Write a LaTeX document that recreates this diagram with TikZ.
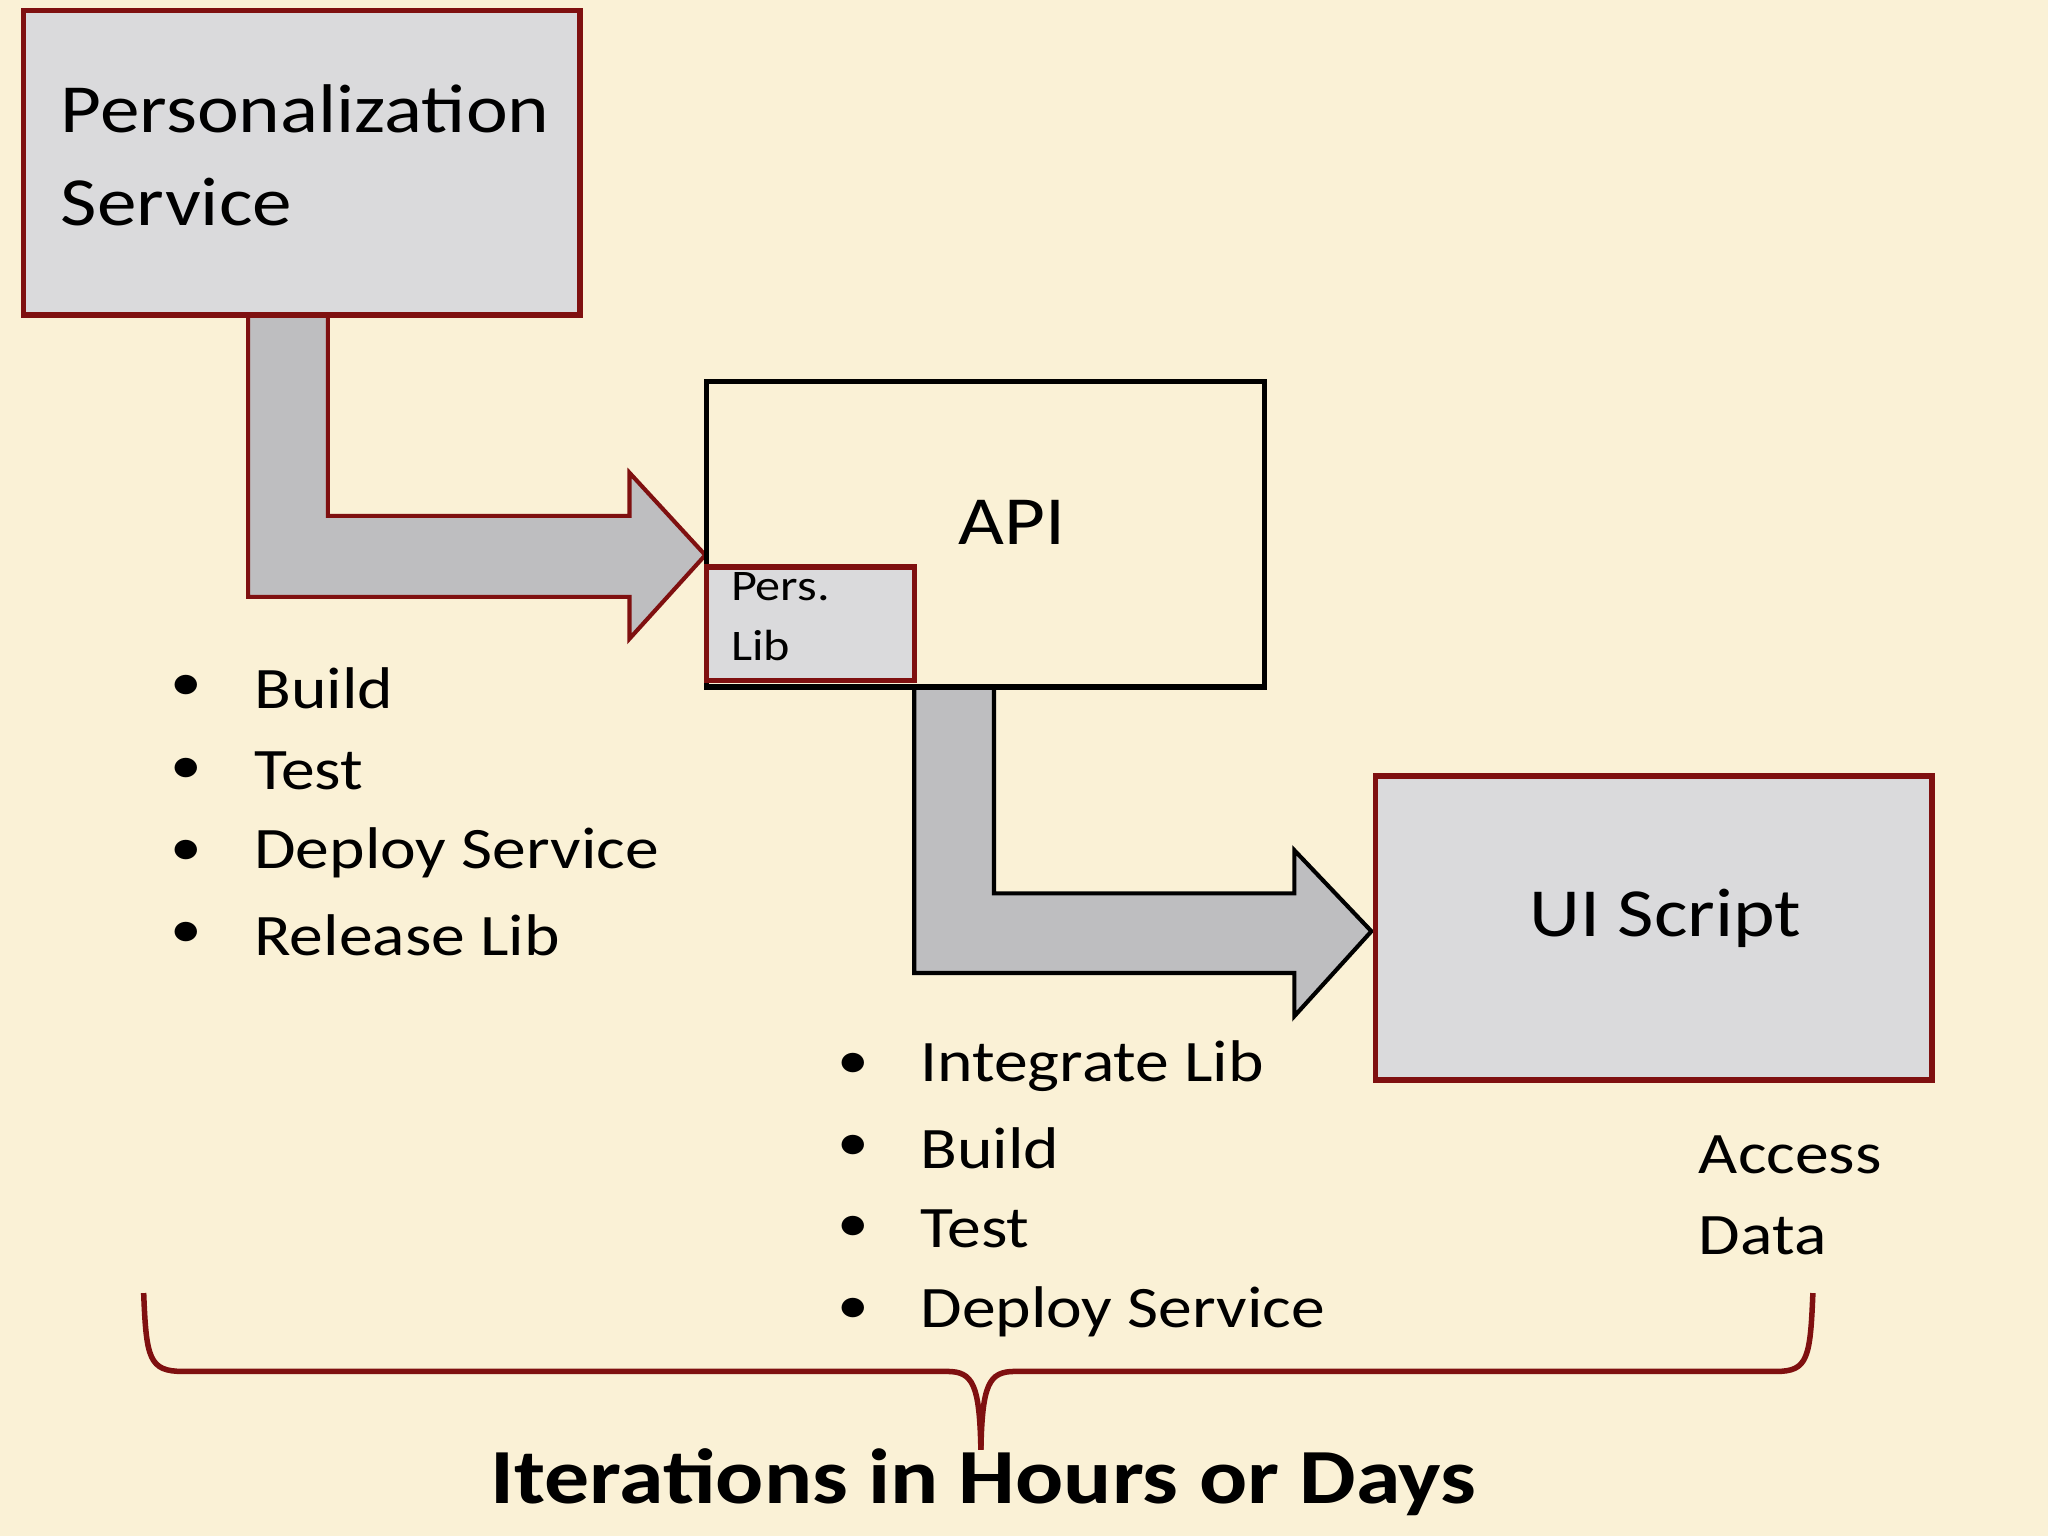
\documentclass[tikz,border=0pt]{standalone}
\usepackage{fontspec}
\setmainfont{Carlito}[FakeStretch=1.15]
\begin{document}
\begin{tikzpicture}[x=0.01cm,y=-0.01cm,
  redbox/.style={draw=dred,line width=1.2pt,fill=boxgray},
  txt/.style={inner sep=0pt,anchor=west,font=\fontsize{12.8}{14}\selectfont},
  bul/.style={inner sep=0pt,font=\fontsize{12}{14}\selectfont}]
\definecolor{bg}{HTML}{FAF1D6}
\definecolor{dred}{HTML}{7F1010}
\definecolor{boxgray}{HTML}{DADADC}
\definecolor{arrgray}{HTML}{BEBEC0}
\fill[bg] (0,0) rectangle (1568,1176);
\useasboundingbox (0,0) rectangle (1568,1176);
% arrows
\draw[fill=arrgray,draw=dred,line width=0.9pt] (190,241) -- (190,457) -- (482,457) -- (482,489) -- (540,425) -- (482,362) -- (482,395) -- (251,395) -- (251,241) -- cycle;
\draw[fill=arrgray,draw=black,line width=0.9pt] (700,526) -- (700,745) -- (991,745) -- (991,778) -- (1050,713) -- (991,651) -- (991,684) -- (761,684) -- (761,526) -- cycle;
% boxes
\draw[redbox] (18,8) rectangle (444,241);
\node[txt,font=\fontsize{15}{18}\selectfont] (ps1) at (46,83) {Personalization};
\node[txt,font=\fontsize{15}{18}\selectfont] (ps2) at (46,155) {Service};
\draw[black,line width=1.2pt] (541,292) rectangle (968,526);
\node[inner sep=0pt,font=\fontsize{15}{18}\selectfont] (api) at (775,400) {API};
\draw[redbox] (541,434) rectangle (700,521);
\node[txt,font=\fontsize{9.5}{11}\selectfont] (pl1) at (559,449) {Pers.};
\node[txt,font=\fontsize{9.5}{11}\selectfont] (pl2) at (559,494) {Lib};
\draw[redbox] (1053,594) rectangle (1479,827);
\node[inner sep=0pt,font=\fontsize{15}{18}\selectfont] (ui) at (1275,703) {UI Script};
% bullets
\foreach \t/\y [count=\i] in {Build/527,Test/590,Deploy Service/653,Release Lib/716}{
  \node[bul] (ba\i) at (143,\y) {•};
  \node[txt] (ta\i) at (194,\y) {\t};}
\foreach \t/\y [count=\i] in {Integrate Lib/816,Build/879,Test/941,Deploy Service/1004}{
  \node[bul] (bb\i) at (653,\y) {•};
  \node[txt] (tb\i) at (704,\y) {\t};}
\node[txt] (ad1) at (1300,884) {Access};
\node[txt] (ad2) at (1300,946) {Data};
% brace
\draw[dred,line width=1.2pt] (110,990) .. controls (112,1040) and (114,1050) .. (140,1050) -- (725,1050) .. controls (745,1050) and (750,1060) .. (751,1110);
\draw[dred,line width=1.2pt] (1388,990) .. controls (1386,1040) and (1384,1050) .. (1360,1050) -- (777,1050) .. controls (757,1050) and (752,1060) .. (751,1110);
\node[inner sep=0pt,font=\bfseries\fontsize{17}{20}\selectfont] (title) at (753,1135) {Iterations in Hours or Days};
\end{tikzpicture}
\end{document}
